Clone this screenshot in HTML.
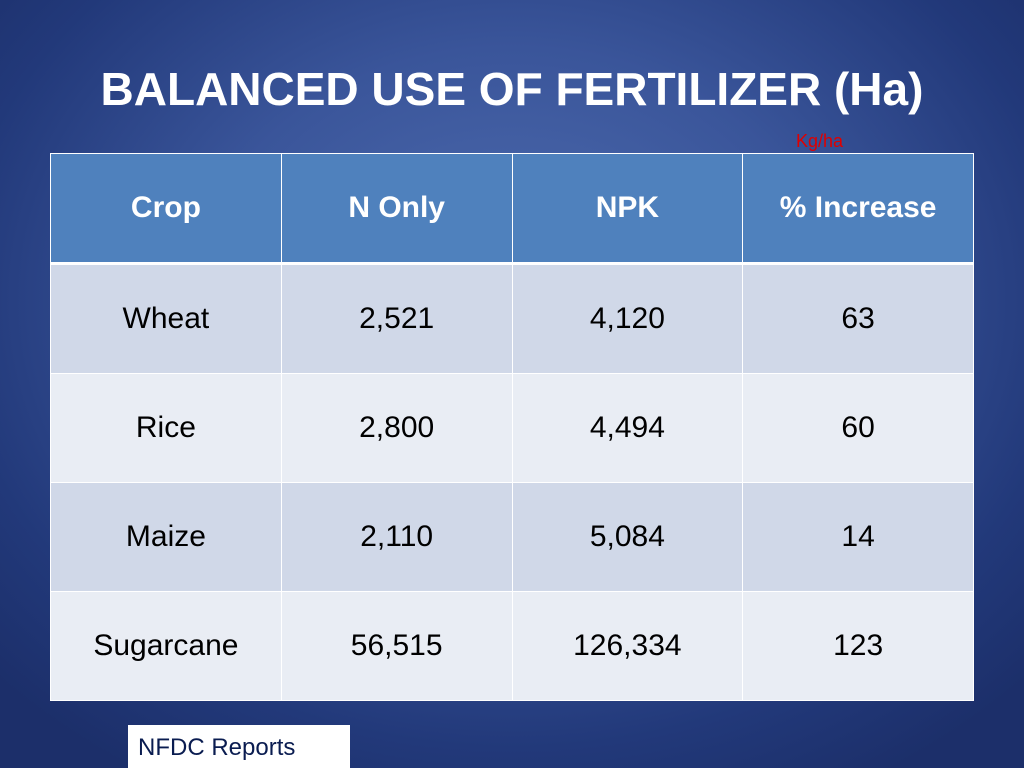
<!DOCTYPE html>
<html><head><meta charset="utf-8"><style>
body{margin:0;width:1024px;height:768px;overflow:hidden;font-family:"Liberation Sans",sans-serif;
background:radial-gradient(ellipse 700px 560px at 512px 300px,#4f6db0 0%,#3a559a 45%,#22397a 80%,#1c2f6a 100%);position:relative}
.t{position:absolute;left:0;width:1024px;top:62px;text-align:center;color:#fff;font-weight:bold;font-size:46px}
.kg{position:absolute;left:796px;top:131px;color:#e00000;font-size:18px}
table{position:absolute;left:50px;top:153px;border-collapse:collapse;width:924px}
td{border:1.5px solid #fff;text-align:center;font-size:30px;color:#000;width:230px;height:108px;padding:0}
tr.h td{background:#4f81bd;color:#fff;font-weight:bold;height:108px;border-bottom:3px solid #fff}
tr.a td{background:#d0d8e8}
tr.b td{background:#e9edf4}
.src{position:absolute;left:128px;top:725px;width:222px;height:43px;background:#fff;color:#0a1c50;font-size:24px;box-sizing:border-box;padding:9px 0 0 10px}
</style></head><body>
<div class="t">BALANCED USE OF FERTILIZER (Ha)</div>
<div class="kg">Kg/ha</div>
<table>
<tr class="h"><td>Crop</td><td>N Only</td><td>NPK</td><td>% Increase</td></tr>
<tr class="a"><td>Wheat</td><td>2,521</td><td>4,120</td><td>63</td></tr>
<tr class="b"><td>Rice</td><td>2,800</td><td>4,494</td><td>60</td></tr>
<tr class="a"><td>Maize</td><td>2,110</td><td>5,084</td><td>14</td></tr>
<tr class="b"><td>Sugarcane</td><td>56,515</td><td>126,334</td><td>123</td></tr>
</table>
<div class="src">NFDC Reports</div>
</body></html>
